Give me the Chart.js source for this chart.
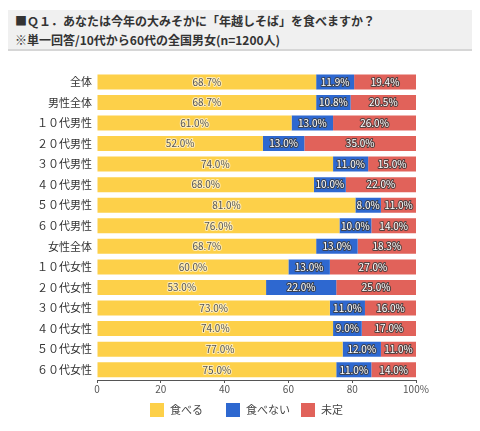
<!DOCTYPE html>
<html><head><meta charset="utf-8">
<script src="https://cdn.jsdelivr.net/npm/chart.js@4"></script>
<style>
html,body{margin:0;padding:0;background:#fff;width:480px;height:431px;overflow:hidden;font-family:"Noto Sans CJK JP","Noto Sans",sans-serif;}
#title{position:absolute;left:8px;top:10px;width:464px;height:39px;background:#f0f0f0;border-bottom:2px solid #d6d6d6;}
#title div{position:absolute;left:7px;font-weight:bold;font-size:12px;color:#333;white-space:nowrap;}
#wrap{position:absolute;left:0;top:60px;width:480px;height:371px;}
</style></head>
<body>
<div id="title"><div style="top:2px">■Ｑ１．あなたは今年の大みそかに「年越しそば」を食べますか？</div><div style="top:21px">※単一回答/10代から60代の全国男女(n=1200人)</div></div>
<div id="wrap"><canvas id="c"></canvas></div>
<script>
const categories = ["全体","男性全体","１０代男性","２０代男性","３０代男性","４０代男性","５０代男性","６０代男性","女性全体","１０代女性","２０代女性","３０代女性","４０代女性","５０代女性","６０代女性"];
const seriesNames = ["食べる","食べない","未定"];
const eatValues =    [68.7,68.7,61.0,52.0,74.0,68.0,81.0,76.0,68.7,60.0,53.0,73.0,74.0,77.0,75.0];
const notEatValues = [11.9,10.8,13.0,13.0,11.0,10.0,8.0,10.0,13.0,13.0,22.0,11.0,9.0,12.0,11.0];
const undecidedValues = [19.4,20.5,26.0,35.0,15.0,22.0,11.0,14.0,18.3,27.0,25.0,16.0,17.0,11.0,14.0];
const xTicks = [0,20,40,60,80,100];

const colors = ["#FDD049","#2E68D0","#E1625A"];

const labelPlugin = {
  id:'barLabels',
  afterDatasetsDraw(chart){
    const ctx = chart.ctx;
    ctx.save();
    ctx.font = '10px "Noto Sans CJK JP", sans-serif';
    ctx.textAlign = 'center';
    ctx.textBaseline = 'middle';
    ctx.lineJoin = 'round';
    chart.data.datasets.forEach((ds, di) => {
      const meta = chart.getDatasetMeta(di);
      meta.data.forEach((bar, i) => {
        const v = ds.data[i];
        const txt = v.toFixed(1) + '%';
        const x = (bar.x + bar.base) / 2;
        if (di === 0) {
          ctx.lineWidth = 2;
          ctx.strokeStyle = 'rgba(255,255,255,0.6)';
          ctx.strokeText(txt, x, bar.y);
          ctx.fillStyle = '#555';
          ctx.fillText(txt, x, bar.y);
        } else {
          ctx.lineWidth = 2;
          ctx.strokeStyle = 'rgba(60,60,60,0.85)';
          ctx.strokeText(txt, x, bar.y);
          ctx.fillStyle = '#fff';
          ctx.fillText(txt, x, bar.y);
        }
      });
    });
    ctx.restore();
  }
};

const legendPlugin = {
  id:'fixedLegend',
  afterDraw(chart){
    const ctx = chart.ctx;
    ctx.save();
    const starts = [150,226,301];
    const y = 343;
    ctx.font = '11px "Noto Sans CJK JP", sans-serif';
    ctx.textBaseline = 'middle';
    ctx.textAlign = 'left';
    chart.data.datasets.forEach((ds, i) => {
      ctx.fillStyle = ds.backgroundColor;
      ctx.fillRect(starts[i], y, 14, 14);
      ctx.fillStyle = '#444';
      ctx.fillText(ds.label, starts[i] + 20, y + 7);
    });
    ctx.restore();
  }
};

new Chart(document.getElementById('c'), {
  type:'bar',
  data:{
    labels:categories,
    datasets:[
      {label:seriesNames[0], data:eatValues, backgroundColor:colors[0]},
      {label:seriesNames[1], data:notEatValues, backgroundColor:colors[1]},
      {label:seriesNames[2], data:undecidedValues, backgroundColor:colors[2]}
    ]
  },
  options:{
    indexAxis:'y',
    responsive:true,
    maintainAspectRatio:false,
    animation:false,
    layout:{padding:{left:0,right:64,top:10,bottom:0}},
    datasets:{bar:{barPercentage:0.73,categoryPercentage:1.0,borderWidth:0}},
    plugins:{legend:{display:false},tooltip:{enabled:false}},
    scales:{
      x:{
        stacked:true,min:0,max:100,
        afterBuildTicks(scale){ scale.ticks = xTicks.map(v=>({value:v})); },
        afterFit(scale){ scale.height = 51; },
        ticks:{color:'#555',font:{size:10,family:'"Noto Sans CJK JP", sans-serif'},padding:0,
          callback:(v)=> v===100 ? '100%' : String(v)},
        grid:{drawOnChartArea:false,drawTicks:true,tickLength:3,color:'#555'},
        border:{display:true,color:'#555',width:1}
      },
      y:{
        stacked:true,
        afterFit(scale){ scale.width = 97; },
        ticks:{color:'#333',font:{size:11,family:'"Noto Sans CJK JP", sans-serif'},padding:5},
        grid:{display:false,drawTicks:false},
        border:{display:false}
      }
    }
  },
  plugins:[labelPlugin, legendPlugin]
});
</script>
</body></html>
